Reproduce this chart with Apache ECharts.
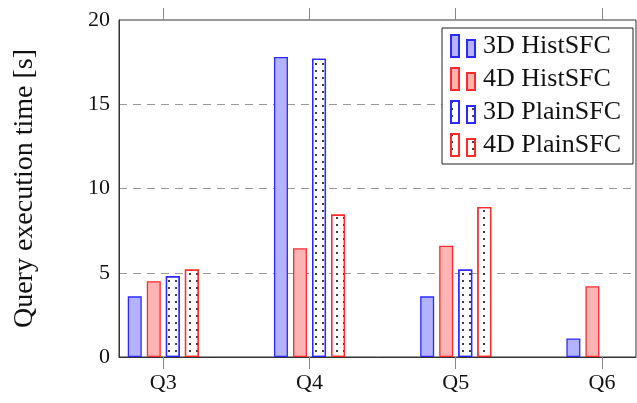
<!DOCTYPE html>
<html>
<head>
<meta charset="utf-8">
<script src="https://cdn.jsdelivr.net/npm/echarts@6/dist/echarts.min.js"></script>
<style>
  html, body { margin: 0; padding: 0; background: #fff; }
  #chart { width: 637px; height: 403px; }
</style>
</head>
<body>
<div id="chart"></div>
<script>
// query positions on the x axis (Q3..Q6)
const queries = [3, 4, 5, 6]
const hist3dValues = [3.6, 17.8, 3.6, 1.1]
const hist4dValues = [4.5, 6.45, 6.6, 4.2]
const plain3dValues = [4.8, 17.7, 5.2, null]
const plain4dValues = [5.2, 8.45, 8.9, null]
const yTicks = [0, 5, 10, 15, 20]

const serif = '"Liberation Serif", "DejaVu Serif", serif'
const dots = {
  symbol: 'circle',
  symbolSize: 1,
  dashArrayX: [2, 5],
  dashArrayY: [2, 5],
  color: '#000',
  backgroundColor: 'rgba(0,0,0,0)'
}

const mkSeries = (name, values, fill, stroke, decal) => ({
  name,
  type: 'bar',
  barWidth: 14,
  barGap: '36%',
  data: queries.map((q, i) => [q, values[i]]),
  itemStyle: {
    color: fill,
    borderColor: stroke,
    borderWidth: 1.3,
    decal: decal || null
  },
  emphasis: { disabled: true }
})

const chart = echarts.init(document.getElementById('chart'))
chart.setOption({
  animation: false,
  grid: {
    left: 119, top: 20, right: 1, bottom: 46,
    show: true, borderColor: '#333', borderWidth: 1
  },
  legend: {
    orient: 'vertical',
    right: 4,
    top: 28,
    padding: [5, 12, 6, 8],
    itemGap: 7,
    itemWidth: 24,
    itemHeight: 22,
    borderColor: '#222',
    borderWidth: 1,
    backgroundColor: '#fff',
    icon: 'path://M0,0 H8 V22 H0 Z M16,5 H24 V22 H16 Z',
    textStyle: { fontFamily: serif, fontSize: 26, color: '#111', padding: [0, 0, 0, 3] }
  },
  xAxis: [{
    type: 'value',
    min: 2.697,
    max: 6.233,
    splitLine: { show: false },
    axisLine: { lineStyle: { color: '#333' } },
    axisTick: { show: true, length: 12, lineStyle: { color: '#888' }, customValues: queries },
    axisLabel: {
      customValues: queries,
      formatter: v => 'Q' + v,
      fontFamily: serif, fontSize: 22, color: '#111', margin: 15
    }
  }, {
    type: 'value',
    position: 'top',
    min: 2.697,
    max: 6.233,
    splitLine: { show: false },
    axisLine: { show: false },
    axisTick: { show: true, length: 12, lineStyle: { color: '#888' }, customValues: queries },
    axisLabel: { show: false }
  }],
  yAxis: {
    type: 'value',
    min: 0,
    max: 20,
    interval: 5,
    name: 'Query execution time [s]',
    nameLocation: 'middle',
    nameGap: 80,
    nameTextStyle: { fontFamily: serif, fontSize: 28, color: '#111' },
    axisLine: { show: true, lineStyle: { color: '#333' } },
    axisTick: { show: false },
    splitLine: { show: true, lineStyle: { color: '#999', type: [8, 6], width: 1.2 } },
    axisLabel: {
      customValues: yTicks,
      fontFamily: serif, fontSize: 22, color: '#111', margin: 9
    }
  },
  series: [
    mkSeries('3D HistSFC', hist3dValues, '#b3b3ff', '#2a2aff'),
    mkSeries('4D HistSFC', hist4dValues, '#ffb3b3', '#ff2a2a'),
    mkSeries('3D PlainSFC', plain3dValues, '#ffffff', '#2a2aff', dots),
    mkSeries('4D PlainSFC', plain4dValues, '#ffffff', '#ff2a2a', dots)
  ]
})
</script>
</body>
</html>
